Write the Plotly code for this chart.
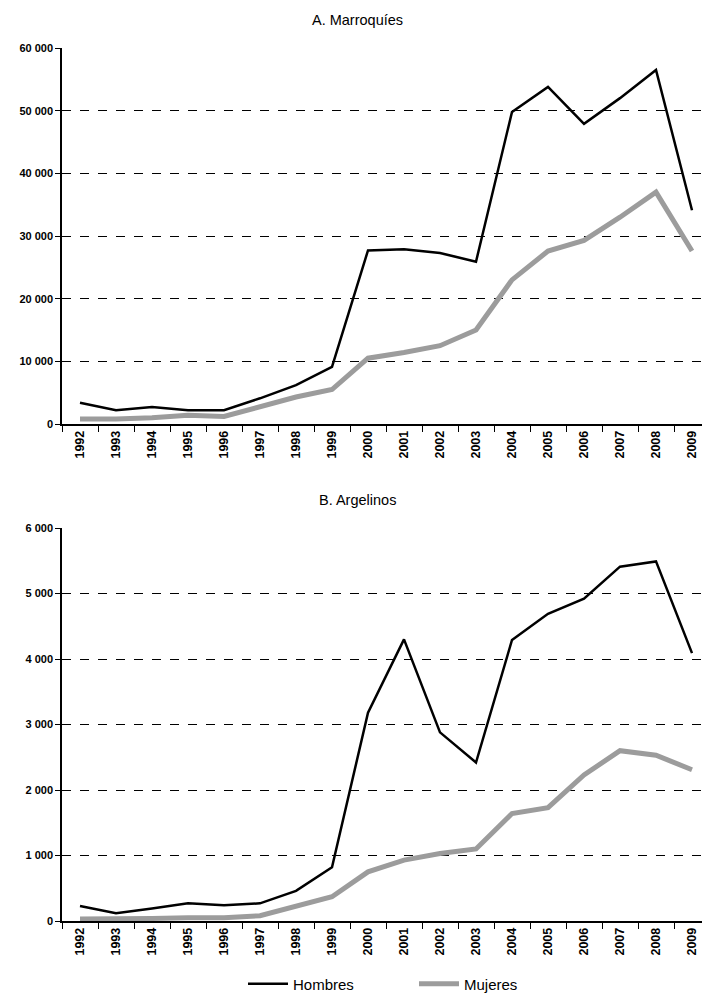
import plotly.graph_objects as go
from plotly.subplots import make_subplots

years = [str(y) for y in range(1992, 2010)]

marroquies_hombres = [3400, 2200, 2700, 2200, 2200, 4100, 6200, 9100, 27700, 27900,
                      27300, 25900, 49800, 53800, 47900, 52000, 56500, 34100]
marroquies_mujeres = [800, 800, 1000, 1400, 1200, 2700, 4300, 5500, 10500, 11400,
                      12500, 15000, 23000, 27600, 29300, 33000, 37000, 27600]

argelinos_hombres = [230, 120, 190, 270, 240, 270, 460, 820, 3180, 4300,
                     2880, 2420, 4290, 4690, 4920, 5410, 5490, 4090]
argelinos_mujeres = [30, 30, 40, 50, 50, 80, 230, 370, 750, 930,
                     1030, 1100, 1640, 1730, 2230, 2600, 2530, 2310]

panel_titles = ["A. Marroquíes", "B. Argelinos"]

font_family = "Liberation Sans, Arial, sans-serif"
black = "#000000"
grey = "#9c9c9c"

# the page has an 8px body margin, so the figure is 8px smaller than the window
fig_w, fig_h = 702, 986
plot_h = 873

fig = make_subplots(rows=2, cols=1, vertical_spacing=0.1)

for row, (hombres, mujeres) in enumerate(
    [(marroquies_hombres, marroquies_mujeres), (argelinos_hombres, argelinos_mujeres)], start=1
):
    fig.add_trace(
        go.Scatter(x=years, y=hombres, mode="lines", name="Hombres",
                   line=dict(color=black, width=2.5), showlegend=(row == 1)),
        row=row, col=1,
    )
    fig.add_trace(
        go.Scatter(x=years, y=mujeres, mode="lines", name="Mujeres",
                   line=dict(color=grey, width=5), showlegend=(row == 1)),
        row=row, col=1,
    )

fig.update_xaxes(
    type="category", tickangle=-90, tickson="boundaries", showgrid=False,
    range=[-0.5, 17.5], automargin=False,
    showline=True, linecolor=black, linewidth=1.5,
    ticks="outside", tickcolor=black, ticklen=6,
    tickfont=dict(family=font_family, size=12.5, color=black, weight="bold"),
)
fig.update_yaxes(
    showgrid=True, gridcolor=black, gridwidth=1, griddash="dash",
    zeroline=False, tickformat=",d", automargin=False,
    showline=True, linecolor=black, linewidth=1.5,
    ticks="outside", tickcolor=black, ticklen=5,
    tickfont=dict(family=font_family, size=11, color=black, weight="bold"),
)

fig.update_yaxes(range=[0, 60000], dtick=10000, row=1, col=1)
fig.update_yaxes(range=[0, 6000], dtick=1000, row=2, col=1)

fig.update_layout(
    xaxis=dict(domain=[0, 1]),
    yaxis=dict(domain=[497 / plot_h, 1]),
    yaxis2=dict(domain=[0, 393 / plot_h]),
)

title_y = [(921 - 20) / plot_h, (921 - 500) / plot_h]
for title, ty in zip(panel_titles, title_y):
    fig.add_annotation(
        text=title, xref="paper", yref="paper",
        x=(357 - 62) / 648, y=ty,
        showarrow=False, xanchor="center", yanchor="middle",
        font=dict(family=font_family, size=14.5, color=black),
    )

fig.update_layout(
    width=fig_w, height=fig_h,
    margin=dict(l=54, r=0, t=40, b=73),
    paper_bgcolor="white", plot_bgcolor="white",
    separators=". ",
    font=dict(family=font_family, color=black),
    showlegend=True,
    legend=dict(
        orientation="h", xref="paper", x=(243 - 62) / 648, xanchor="left",
        yref="container", y=(986 - 976) / 986, yanchor="middle",
        font=dict(family=font_family, size=15, color=black),
        itemwidth=40, entrywidth=116, entrywidthmode="pixels",
        traceorder="normal",
    ),
)

fig.write_html("out.html")
